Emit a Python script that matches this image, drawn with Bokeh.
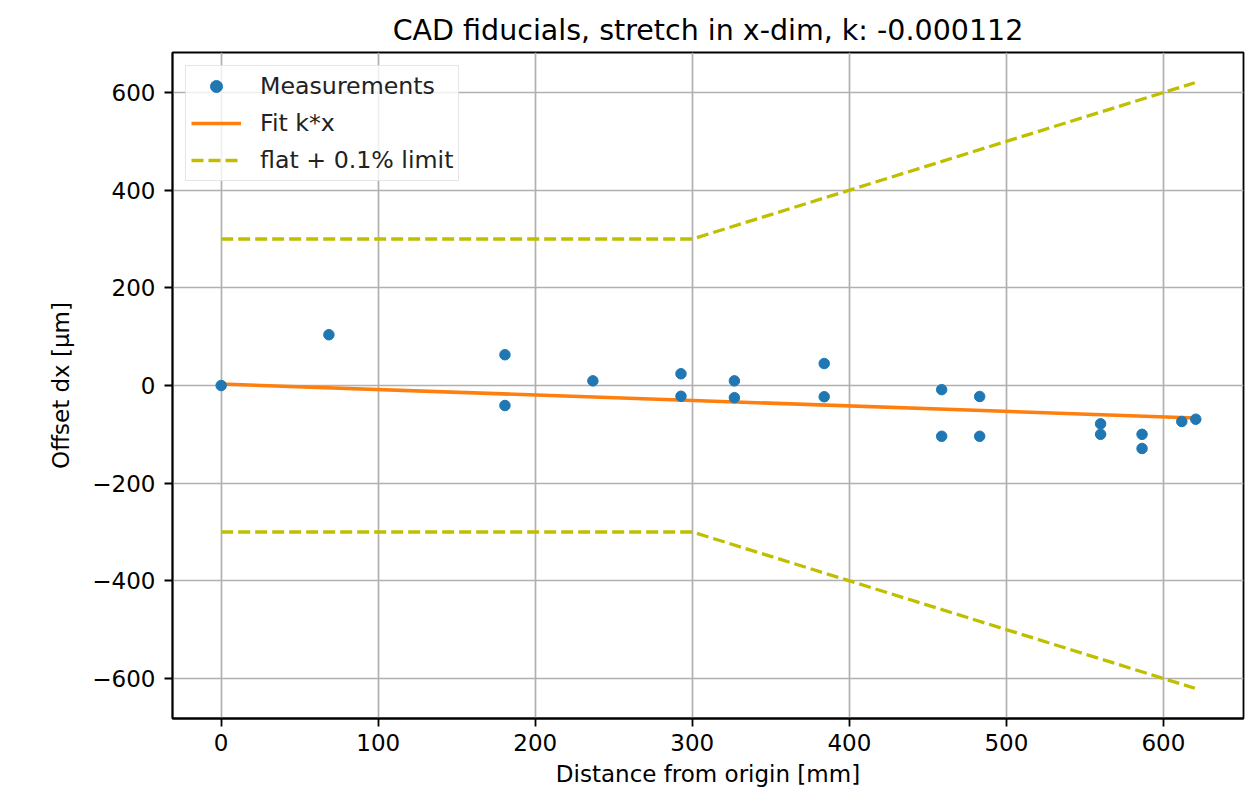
from bokeh.plotting import figure
from bokeh.models import Range1d, FixedTicker, CustomJSTickFormatter, Legend, LegendItem
from bokeh.embed import file_html
from bokeh.resources import INLINE

# ---- data ----
meas_x = [0, 68.6, 180.7, 180.7, 236.7, 292.8, 292.8, 326.8, 326.8, 384, 384,
          458.8, 458.8, 483, 483, 560, 560, 586.4, 586.4, 611.7, 620.6]
meas_y = [0, 104, 63, -41, 9.5, 24, -22, 9.5, -25, 45, -23,
          -8.5, -104, -22.5, -104, -78.5, -100, -100, -129, -73.7, -69]
fit_x = [0, 620]
fit_y = [3, -66.5]
lim_x = [0, 300, 620]
lim_upper = [300, 300, 620]
lim_lower = [-300, -300, -620]
x_ticks = [0, 100, 200, 300, 400, 500, 600]
y_ticks = [-600, -400, -200, 0, 200, 400, 600]

FONT = "DejaVu Sans"
FS = "23px"

p = figure(width=1251, height=796, output_backend="svg", toolbar_location=None,
           x_range=Range1d(-31, 651), y_range=Range1d(-682, 682),
           min_border_left=172, min_border_right=8, min_border_top=52, min_border_bottom=78,
           title="CAD fiducials, stretch in x-dim, k: -0.000112")

p.title.align = "center"
p.title.text_font = FONT
p.title.text_font_size = "28.5px"
p.title.text_font_style = "normal"
p.title.text_color = "black"
p.title.standoff = 12

p.outline_line_color = "black"
p.outline_line_width = 1.8
p.outline_line_alpha = 1.0
p.background_fill_color = "white"
p.border_fill_color = "white"

for ax in (p.xaxis[0], p.yaxis[0]):
    ax.axis_line_color = "black"
    ax.axis_line_width = 1.8
    ax.major_tick_line_width = 1.8
    ax.major_tick_out = 8
    ax.major_tick_in = 0
    ax.minor_tick_line_color = None
    ax.major_label_text_font = FONT
    ax.major_label_text_font_size = FS
    ax.major_label_text_color = "black"
    ax.axis_label_text_font = FONT
    ax.axis_label_text_font_size = FS
    ax.axis_label_text_font_style = "normal"
    ax.axis_label_text_color = "black"
    ax.formatter = CustomJSTickFormatter(code="return tick < 0 ? '\u2212' + (-tick) : String(tick);")

p.xaxis[0].ticker = FixedTicker(ticks=x_ticks)
p.yaxis[0].ticker = FixedTicker(ticks=y_ticks)
p.xaxis[0].axis_label = "Distance from origin [mm]"
p.yaxis[0].axis_label = "Offset dx [\u03bcm]"
p.xaxis[0].major_label_standoff = 7
p.yaxis[0].major_label_standoff = 9
p.xaxis[0].axis_label_standoff = 7
p.yaxis[0].axis_label_standoff = 15

p.xgrid.ticker = FixedTicker(ticks=x_ticks)
p.ygrid.ticker = FixedTicker(ticks=y_ticks)
for g in (p.xgrid[0], p.ygrid[0]):
    g.grid_line_color = "#b0b0b0"
    g.grid_line_width = 1.7

r_up = p.line(lim_x, lim_upper, line_color="#bfbf00", line_width=3.3, line_dash="12 5")
r_lo = p.line(lim_x, lim_lower, line_color="#bfbf00", line_width=3.3, line_dash="12 5")
r_fit = p.line(fit_x, fit_y, line_color="#ff7f0e", line_width=3.6)
r_meas = p.scatter(meas_x, meas_y, size=10.5, fill_color="#1f77b4", line_color="#1f77b4")

legend = Legend(items=[
    LegendItem(label="Measurements", renderers=[r_meas]),
    LegendItem(label="Fit k*x", renderers=[r_fit]),
    LegendItem(label="flat + 0.1% limit", renderers=[r_up]),
], location="top_left")
legend.margin = 13
legend.padding = 5
legend.spacing = 7
legend.label_height = 30
legend.glyph_height = 30
legend.glyph_width = 50
legend.label_standoff = 19
legend.label_text_font = FONT
legend.label_text_font_size = "23.7px"
legend.label_text_color = "#222222"
legend.border_line_color = "#cccccc"
legend.border_line_width = 1.5
legend.background_fill_color = "white"
legend.background_fill_alpha = 0.8
p.add_layout(legend, "center")

open("out.html", "w", encoding="utf-8").write(file_html(p, INLINE))
